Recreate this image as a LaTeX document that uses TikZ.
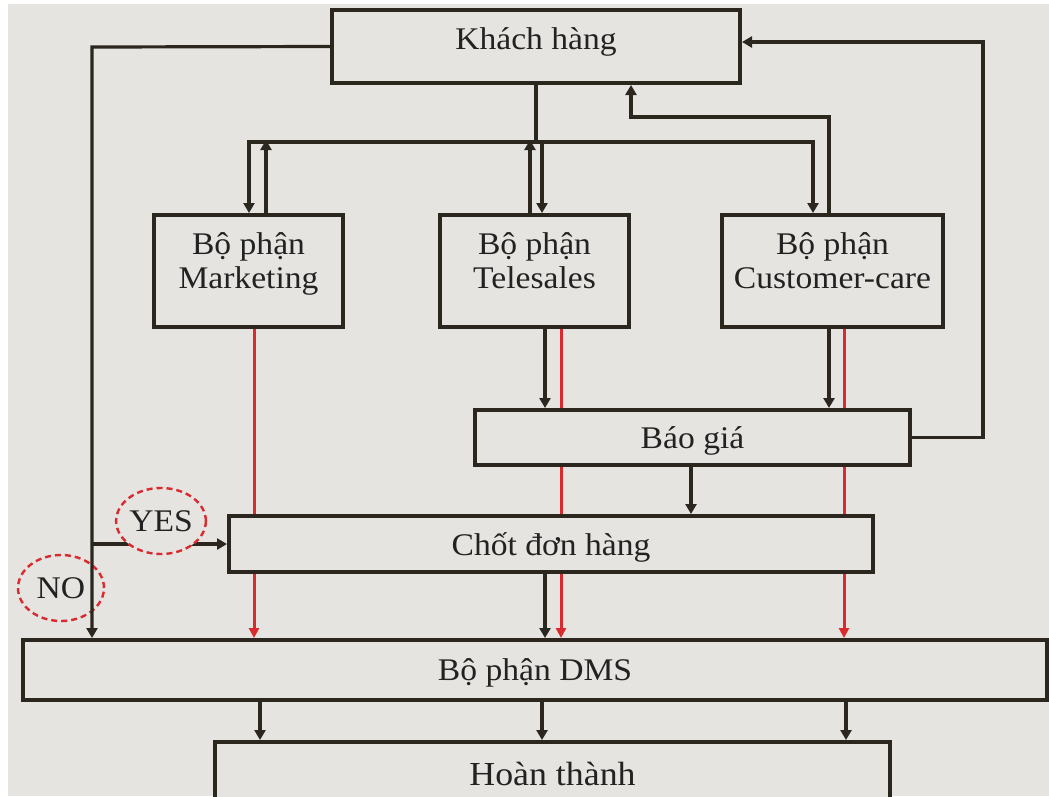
\documentclass[tikz,border=0pt]{standalone}
\usepackage{fontspec}
\usepackage{graphicx}
\setmainfont{Liberation Serif}
\usetikzlibrary{arrows.meta,shapes.geometric}
\definecolor{bgc}{HTML}{E5E4E0}
\definecolor{lc}{HTML}{2B261E}
\definecolor{redc}{HTML}{DA2A2E}
\definecolor{tc}{HTML}{222222}
\newcommand{\sx}[1]{\scalebox{1.12}[1.05]{#1}}
\newcommand{\two}[2]{\sx{\begin{tabular}{@{}c@{}}#1\\#2\end{tabular}}}
\begin{document}
\begin{tikzpicture}[x=1pt,y=-1pt,
  box/.style={draw=lc,line width=4pt,fill=bgc,rectangle,inner sep=0pt},
  txt/.style={text=tc,inner sep=0pt,font=\fontsize{30}{32.5}\selectfont},
  ln/.style={draw=lc,line width=3.2pt},
  conn/.style={draw=lc,line width=3.2pt,-{Triangle[length=10pt,width=11pt]}},
  rconn/.style={draw=redc,line width=3pt,-{Triangle[length=10pt,width=10pt]}},
  oval/.style={ellipse,draw=redc,line width=2.4pt,dash pattern=on 6pt off 4pt,inner sep=0pt,text=tc,font=\fontsize{30}{34}\selectfont}]
\useasboundingbox (0,0) rectangle (1049,796);
\clip (0,0) rectangle (1049,796);
\fill[white] (0,0) rectangle (1049,796);
\fill[bgc] (8,4) rectangle (1049,796);

% boxes
\node[box,minimum width=408pt,minimum height=73pt] (kh) at (536,46.5) {};
\node[txt] at ([yshift=4.5]kh.center) {\sx{Khách hàng}};

% red lines (behind boxes)
\draw[rconn] (254,327) -- (254,638);
\draw[rconn] (561,327) -- (561,638);
\draw[rconn] (844,327) -- (844,638);

\node[box,minimum width=189pt,minimum height=112pt] (mk) at (248.5,271) {};
\node[txt] at ([yshift=6]mk.center) {\two{Bộ phận}{Marketing}};
\node[box,minimum width=189pt,minimum height=112pt] (ts) at (534.5,271) {};
\node[txt] at ([yshift=6]ts.center) {\two{Bộ phận}{Telesales}};
\node[box,minimum width=221pt,minimum height=112pt] (cc) at (832.5,271) {};
\node[txt] at ([yshift=6]cc.center) {\two{Bộ phận}{Customer-care}};

\node[box,minimum width=435pt,minimum height=55pt] (bg) at (692.5,437.5) {};
\node[txt] at ([yshift=-3]bg.center) {\sx{Báo giá}};
\node[box,minimum width=644pt,minimum height=56pt] (ch) at (551,544) {};
\node[txt] at ([yshift=-3]ch.center) {\sx{Chốt đơn hàng}};
\node[box,minimum width=1024pt,minimum height=60pt] (dms) at (535,670) {};
\node[txt] at ([yshift=-3]dms.center) {\sx{Bộ phận DMS}};
\node[box,minimum width=675pt,minimum height=63pt] (ht) at (552.5,773.5) {};
\node[txt,font=\fontsize{32}{38}\selectfont] at (ht.center) {\sx{Hoàn thành}};

% top bus
\coordinate (bus) at (536,142);
\draw[ln] (kh.south) -- (bus);
\draw[conn] (bus) -| ([xshift=0.5]mk.north);
\draw[conn] (bus) -| ([xshift=7.5]ts.north);
\draw[conn] (bus) -| ([xshift=-19.5]cc.north);
\draw[conn] ([xshift=17.5]mk.north) -- ++(0,-73);
\draw[conn] ([xshift=-4.5]ts.north) -- ++(0,-73);
\coordinate (cu) at (829,117);
\draw[conn] ([xshift=-3.5]cc.north) -- (cu) -| ([xshift=95]kh.south);

% to Bao gia
\draw[conn] ([xshift=10.5]ts.south) -- ([xshift=-147.5]bg.north);
\draw[conn] ([xshift=-3.5]cc.south) -- ([xshift=136.5]bg.north);
\draw[conn] ([xshift=-1.5]bg.south) -- ([xshift=140]ch.north);
\coordinate (rt) at (983,42);
\draw[conn] (bg.east) -| (rt) -- ([yshift=4.5]kh.east);

% Chot -> DMS
\draw[conn] ([xshift=-6]ch.south) -- ([xshift=10]dms.north);

% left loop
\node[oval,minimum width=86pt,minimum height=66pt] (no) at (61,588) {\sx{NO}};
\coordinate (lt) at (92,47);
\draw[conn] (kh.west) -- (lt) -- ([xshift=-443]dms.north);
\coordinate (yb) at (92,544);
\draw[conn] (yb) -- (ch.west);
\node[oval,fill=bgc,minimum width=88pt,minimum height=66pt] (yes) at (161,521) {\sx{YES}};

% DMS -> Hoan thanh
\draw[conn] ([xshift=-275]dms.south) -- ([xshift=-292.5]ht.north);
\draw[conn] ([xshift=7]dms.south) -- ([xshift=-10.5]ht.north);
\draw[conn] ([xshift=311]dms.south) -- ([xshift=293.5]ht.north);
\end{tikzpicture}
\end{document}
